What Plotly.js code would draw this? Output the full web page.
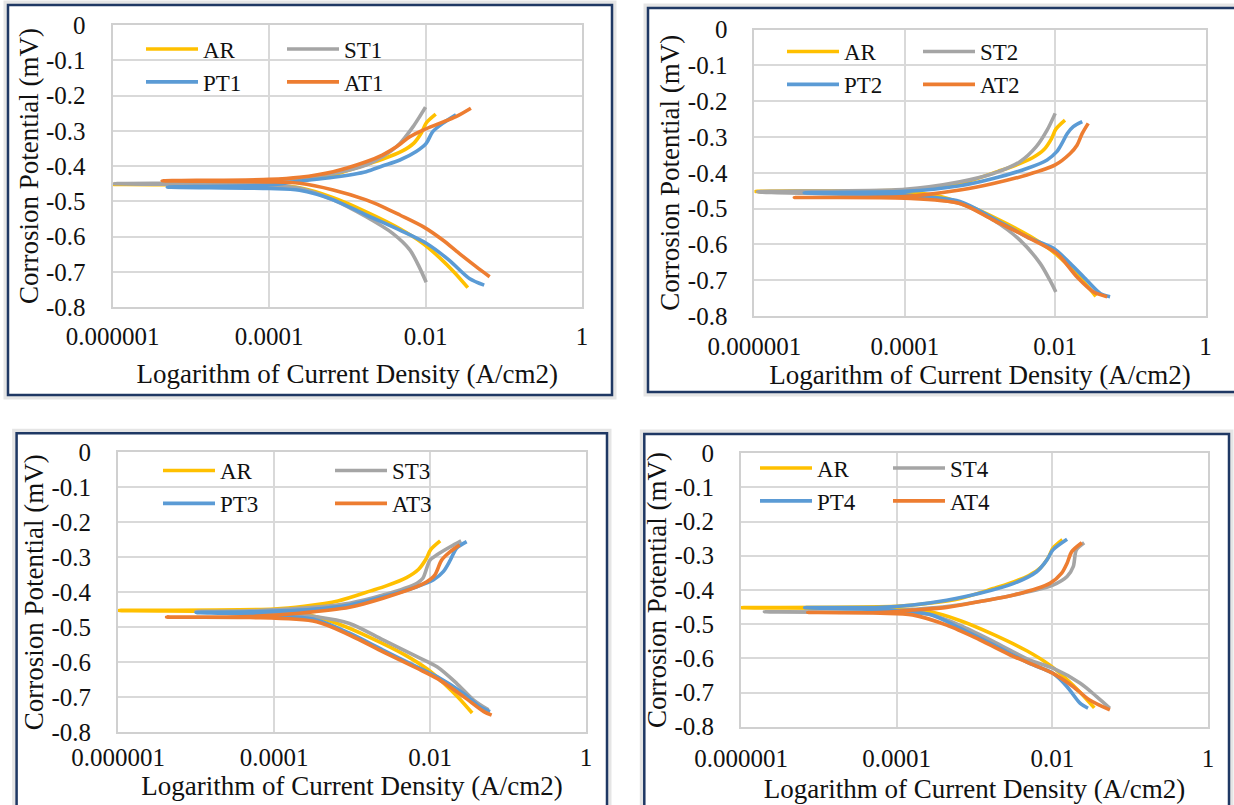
<!DOCTYPE html>
<html><head><meta charset="utf-8">
<script src="https://cdn.plot.ly/plotly-3.0.1.min.js"></script>
<style>html,body{margin:0;padding:0;background:#fff;} #chart{width:1234px;height:805px;}</style>
</head><body><div id="chart"></div>
<script>
// ---------- data (current density A/cm2, potential) ----------
const X_TICK_VALS = [0.000001, 0.0001, 0.01, 1];
const X_TICK_TEXT = ['0.000001', '0.0001', '0.01', '1'];
const Y_TICK_VALS = [0, -0.1, -0.2, -0.3, -0.4, -0.5, -0.6, -0.7, -0.8];
const Y_TICK_TEXT = ['0', '-0.1', '-0.2', '-0.3', '-0.4', '-0.5', '-0.6', '-0.7', '-0.8'];

const AR_I = [0.0135, 0.0102, 0.0089, 0.0071, 0.0050, 0.0028, 0.00174, 0.00066, 0.000245, 0.0001, 0.000001, 0.0001, 0.000245, 0.00066, 0.00174, 0.0047, 0.0093, 0.0151, 0.0234, 0.0347];
const AR_E = [-0.253, -0.278, -0.305, -0.335, -0.358, -0.381, -0.396, -0.425, -0.440, -0.448, -0.452, -0.456, -0.462, -0.490, -0.530, -0.578, -0.620, -0.660, -0.702, -0.745];

const ST1_I = [0.0100, 0.0083, 0.0069, 0.0047, 0.0028, 0.00174, 0.00066, 0.000245, 0.0001, 0.00000105, 0.0001, 0.000245, 0.00066, 0.00174, 0.0038, 0.0063, 0.0083, 0.0102];
const ST1_E = [-0.233, -0.262, -0.289, -0.336, -0.374, -0.397, -0.421, -0.434, -0.445, -0.450, -0.456, -0.463, -0.496, -0.544, -0.591, -0.638, -0.686, -0.730];
const PT1_I = [0.0245, 0.0166, 0.0123, 0.0102, 0.0076, 0.0047, 0.0028, 0.00174, 0.00066, 0.000245, 0.0001, 0.000005, 0.0001, 0.000245, 0.00066, 0.00174, 0.0047, 0.0102, 0.0200, 0.0363, 0.0562];
const PT1_E = [-0.255, -0.279, -0.303, -0.336, -0.359, -0.383, -0.400, -0.416, -0.432, -0.443, -0.454, -0.460, -0.464, -0.469, -0.496, -0.539, -0.582, -0.619, -0.667, -0.719, -0.738];
const AT1_I = [0.038, 0.0245, 0.0151, 0.0093, 0.0063, 0.0043, 0.0028, 0.00174, 0.00066, 0.000245, 0.0001, 0.0000043, 0.0001, 0.000245, 0.00066, 0.00174, 0.0028, 0.0047, 0.0093, 0.0166, 0.0269, 0.0447, 0.066];
const AT1_E = [-0.236, -0.260, -0.279, -0.298, -0.317, -0.345, -0.369, -0.388, -0.416, -0.432, -0.438, -0.442, -0.445, -0.449, -0.468, -0.496, -0.515, -0.539, -0.572, -0.610, -0.648, -0.686, -0.714];

const ST2_I = [0.0100, 0.0078, 0.0056, 0.0034, 0.0015, 0.00054, 0.0001, 0.0000011, 0.0001, 0.00054, 0.0015, 0.0034, 0.0063, 0.0085, 0.0102];
const ST2_E = [-0.234, -0.281, -0.327, -0.369, -0.402, -0.425, -0.446, -0.453, -0.466, -0.486, -0.532, -0.588, -0.653, -0.700, -0.733];
const PT2_I = [0.0229, 0.0174, 0.0145, 0.0123, 0.0105, 0.0078, 0.0042, 0.0015, 0.00054, 0.0001, 0.0000046, 0.0001, 0.00054, 0.0015, 0.0042, 0.0095, 0.0158, 0.0263, 0.0398, 0.0537];
const PT2_E = [-0.257, -0.271, -0.290, -0.318, -0.341, -0.364, -0.388, -0.416, -0.436, -0.452, -0.456, -0.462, -0.480, -0.527, -0.579, -0.611, -0.653, -0.700, -0.737, -0.746];
const AT2_I = [0.0275, 0.0229, 0.0195, 0.0158, 0.0100, 0.0042, 0.0015, 0.00054, 0.0001, 0.0000034, 0.0001, 0.00054, 0.0015, 0.0042, 0.0105, 0.0195, 0.0324, 0.049];
const AT2_E = [-0.262, -0.290, -0.323, -0.346, -0.378, -0.406, -0.430, -0.448, -0.466, -0.469, -0.471, -0.486, -0.532, -0.579, -0.625, -0.691, -0.733, -0.746];

const ST3_I = [0.0251, 0.0182, 0.0123, 0.0100, 0.0081, 0.0068, 0.0025, 0.00093, 0.00021, 0.000049, 0.00001, 0.0001, 0.00035, 0.00093, 0.0025, 0.0068, 0.0123, 0.0219, 0.0363, 0.0562];
const ST3_E = [-0.253, -0.270, -0.293, -0.308, -0.360, -0.374, -0.408, -0.431, -0.446, -0.453, -0.455, -0.460, -0.470, -0.489, -0.536, -0.584, -0.613, -0.660, -0.708, -0.736];
const PT3_I = [0.0295, 0.0219, 0.0182, 0.0148, 0.0110, 0.0068, 0.0025, 0.00093, 0.00021, 0.000049, 0.00001, 0.000049, 0.00035, 0.00093, 0.0025, 0.0068, 0.0123, 0.0269, 0.0437, 0.0589];
const PT3_E = [-0.255, -0.274, -0.308, -0.341, -0.365, -0.384, -0.413, -0.436, -0.451, -0.456, -0.458, -0.462, -0.479, -0.517, -0.565, -0.613, -0.641, -0.689, -0.727, -0.741];
const AT3_I = [0.0240, 0.0182, 0.0141, 0.0115, 0.0091, 0.0068, 0.0025, 0.00093, 0.00021, 0.000049, 0.0000042, 0.000049, 0.00035, 0.00093, 0.0025, 0.0068, 0.0123, 0.0269, 0.049, 0.0617];
const AT3_E = [-0.265, -0.284, -0.308, -0.351, -0.370, -0.384, -0.417, -0.443, -0.460, -0.469, -0.471, -0.472, -0.484, -0.522, -0.570, -0.617, -0.646, -0.698, -0.741, -0.751];

const ST4_I = [0.0257, 0.0204, 0.0186, 0.0155, 0.0102, 0.0032, 0.00117, 0.00044, 0.00016, 0.000062, 0.000002, 0.000062, 0.00027, 0.00072, 0.00195, 0.0051, 0.0102, 0.0229, 0.0372, 0.055];
const ST4_E = [-0.262, -0.283, -0.332, -0.361, -0.386, -0.415, -0.434, -0.449, -0.457, -0.464, -0.464, -0.466, -0.472, -0.508, -0.556, -0.605, -0.629, -0.673, -0.712, -0.746];
const PT4_I = [0.0155, 0.0102, 0.0085, 0.0063, 0.0032, 0.00117, 0.00044, 0.00016, 0.000062, 0.0000066, 0.000062, 0.00027, 0.00072, 0.00195, 0.0051, 0.0102, 0.0155, 0.0229, 0.0288];
const PT4_E = [-0.252, -0.283, -0.313, -0.347, -0.381, -0.410, -0.430, -0.444, -0.451, -0.452, -0.458, -0.472, -0.517, -0.566, -0.615, -0.644, -0.683, -0.732, -0.746];
const AT4_I = [0.0240, 0.0178, 0.0155, 0.0132, 0.0093, 0.0032, 0.00117, 0.00044, 0.00016, 0.000062, 0.0000072, 0.000062, 0.00016, 0.00044, 0.00117, 0.0032, 0.0102, 0.0186, 0.0302, 0.055];
const AT4_E = [-0.262, -0.288, -0.322, -0.351, -0.381, -0.415, -0.434, -0.451, -0.459, -0.466, -0.466, -0.468, -0.473, -0.503, -0.546, -0.595, -0.644, -0.683, -0.722, -0.751];

const SERIES_NAMES = [['AR', 'ST1', 'PT1', 'AT1'], ['AR', 'ST2', 'PT2', 'AT2'], ['AR', 'ST3', 'PT3', 'AT3'], ['AR', 'ST4', 'PT4', 'AT4']];
const SERIES_DATA = [
  [[AR_I, AR_E], [ST1_I, ST1_E], [PT1_I, PT1_E], [AT1_I, AT1_E]],
  [[AR_I, AR_E], [ST2_I, ST2_E], [PT2_I, PT2_E], [AT2_I, AT2_E]],
  [[AR_I, AR_E], [ST3_I, ST3_E], [PT3_I, PT3_E], [AT3_I, AT3_E]],
  [[AR_I, AR_E], [ST4_I, ST4_E], [PT4_I, PT4_E], [AT4_I, AT4_E]]
];
const X_TITLE = 'Logarithm of Current Density (A/cm2)';
const Y_TITLE = 'Corrosion Potential (mV)';

// ---------- styling / layout ----------
const W = 1234, H = 805;
const COLORS = ['#FFC000', '#A5A5A5', '#5B9BD5', '#ED7D31'];
const FONT = '"Liberation Serif", serif';
const TXT = '#111111';
const px = v => v / W, py = v => 1 - v / H;
const ITEMW = 52;

// pixel boxes per panel
const PANELS = [
  {plot: [112.6, 582, 25, 307], border: [8, 612, 5, 395], leg: [141, 27.5, 141], xst: 15, yst: 0, xsl: 6},
  {plot: [754.4, 1205.6, 29.6, 316], border: [648, 1245, 8, 392], leg: [782, 30, 136], xst: 0, yst: 0, xsl: 7},
  {plot: [118, 586, 452.3, 732.3], border: [16.6, 607, 433.3, 815], leg: [158, 449, 172], xst: 0, yst: 0, xsl: 2},
  {plot: [741, 1207.9, 453.1, 726.7], border: [644.3, 1229, 434, 815], leg: [755, 446.5, 133], xst: 8, yst: 0, xsl: 8}
];

const traces = [];
const layout = {
  width: W, height: H,
  margin: {l: 0, r: 0, t: 0, b: 0},
  paper_bgcolor: '#ffffff', plot_bgcolor: '#ffffff',
  showlegend: true,
  font: {family: FONT, color: TXT},
  shapes: []
};

PANELS.forEach((p, i) => {
  const sfx = i === 0 ? '' : String(i + 1);
  const legKey = 'legend' + sfx;
  SERIES_DATA[i].forEach((d, k) => {
    traces.push({
      x: d[0], y: d[1], type: 'scatter', mode: 'lines',
      xaxis: 'x' + sfx, yaxis: 'y' + sfx,
      name: SERIES_NAMES[i][k],
      legend: legKey, legendgroup: 'p' + i + 'g' + (k % 2),
      line: {color: COLORS[k], width: 3.6, shape: 'spline', smoothing: 0.8},
      hoverinfo: 'skip'
    });
  });
  const [x0, x1, y0, y1] = p.plot;
  layout['xaxis' + sfx] = {
    domain: [px(x0), px(x1)], anchor: 'y' + sfx, type: 'log', range: [-6, 0],
    tickvals: X_TICK_VALS, ticktext: X_TICK_TEXT, ticks: '',
    showgrid: true, gridcolor: '#d9d9d9', gridwidth: 2,
    showline: true, linecolor: '#d0d0d0', linewidth: 2, mirror: true, zeroline: false,
    tickfont: {family: FONT, size: 25, color: TXT}, ticklabelstandoff: p.xsl,
    title: {text: X_TITLE, font: {family: FONT, size: 27, color: TXT}, standoff: p.xst},
    automargin: false, fixedrange: true
  };
  layout['yaxis' + sfx] = {
    domain: [py(y1), py(y0)], anchor: 'x' + sfx, range: [-0.8, 0],
    tickvals: Y_TICK_VALS, ticktext: Y_TICK_TEXT, ticks: '',
    showgrid: true, gridcolor: '#d9d9d9', gridwidth: 2,
    showline: true, linecolor: '#d0d0d0', linewidth: 2, mirror: true, zeroline: false,
    tickfont: {family: FONT, size: 25, color: TXT}, ticklabelstandoff: 20,
    title: {text: Y_TITLE, font: {family: FONT, size: 27, color: TXT}, standoff: p.yst},
    automargin: false, fixedrange: true
  };
  const [lx, ly, sp] = p.leg;
  layout[legKey] = {
    orientation: 'h', traceorder: 'grouped', x: px(lx), y: py(ly),
    xanchor: 'left', yanchor: 'top', bgcolor: 'rgba(0,0,0,0)', borderwidth: 0,
    font: {family: FONT, size: 23, color: TXT}, itemwidth: ITEMW,
    entrywidth: sp - (ITEMW + 10) - 5, entrywidthmode: 'pixels', tracegroupgap: 0
  };
  const [bx0, bx1, by0, by1] = p.border;
  layout.shapes.push({type: 'rect', xref: 'paper', yref: 'paper', x0: px(bx0 - 2), x1: px(bx1 + 2), y0: py(by1 + 2), y1: py(by0 - 2),
    line: {color: 'rgba(0,0,0,0.10)', width: 5}, fillcolor: 'rgba(0,0,0,0)', layer: 'below'});
  layout.shapes.push({type: 'rect', xref: 'paper', yref: 'paper', x0: px(bx0), x1: px(bx1), y0: py(by1), y1: py(by0),
    line: {color: '#1F3864', width: 2.5}, fillcolor: 'rgba(0,0,0,0)', layer: 'below'});
});

Plotly.newPlot('chart', traces, layout, {displayModeBar: false, staticPlot: true});
</script>
</body></html>
